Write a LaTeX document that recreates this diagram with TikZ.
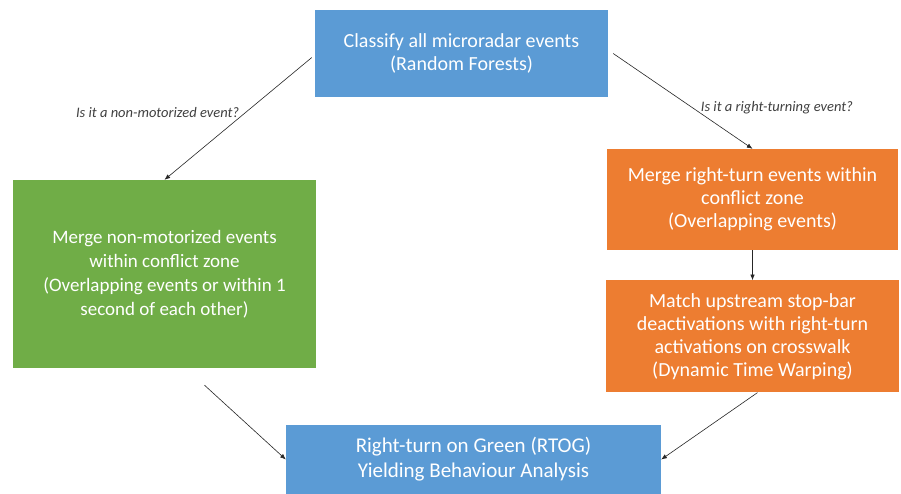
\documentclass[tikz,border=0pt]{standalone}
\usepackage{fontspec}
\setmainfont{Carlito}
\usetikzlibrary{
  arrows.meta,
  positioning
}
\definecolor{StepBlue}{RGB}{91,155,213}
\definecolor{StepGreen}{RGB}{112,173,71}
\definecolor{StepOrange}{RGB}{237,125,49}
\definecolor{QuestionGray}{RGB}{64,64,64}
\tikzset{
  bluestep/.style={fill=StepBlue,text=white,align=center,inner sep=0pt,font=\fontsize{20}{23}\selectfont},
  greenstep/.style={fill=StepGreen,text=white,align=center,inner sep=0pt,font=\fontsize{19}{24}\selectfont},
  orangestep/.style={fill=StepOrange,text=white,align=center,inner sep=0pt,font=\fontsize{20}{23}\selectfont},
  flowarrow/.style={-{Latex[length=2mm,width=1.6mm]},semithick,draw=black!85},
  question/.style={font=\fontsize{14.5}{16}\selectfont\itshape,text=QuestionGray,inner sep=0pt}
}

\begin{document}
\begin{tikzpicture}[x=1pt,y=-1pt]
\useasboundingbox[fill=white] (0,0) rectangle (901,494);
\node[bluestep, minimum width=293pt, minimum height=87pt] (classify) at (461.5,53.5) {Classify all microradar events\\(Random Forests)};
\node[greenstep, minimum width=303pt, minimum height=188pt] (nonmotor) at (164.5,274) {Merge non-motorized events\\within conflict zone\\(Overlapping events or within 1\\second of each other)};
\node[orangestep, minimum width=291pt, minimum height=101pt] (rightmerge) at (752.5,199.5) {Merge right-turn events within\\conflict zone\\(Overlapping events)};
\node[orangestep, minimum width=293pt, minimum height=112pt, below=30pt of rightmerge] (stopbar) {Match upstream stop-bar\\deactivations with right-turn\\activations on crosswalk\\(Dynamic Time Warping)};
\node[bluestep, minimum width=375pt, minimum height=69pt, font=\fontsize{21}{25}\selectfont] (rtog) at (473.5,459.5) {Right-turn on Green (RTOG)\\Yielding Behaviour Analysis};
\draw[flowarrow] ([xshift=-3pt,yshift=-4pt]classify.west) -- node[question, pos=0.45, anchor=east, xshift=-6pt] {Is it a non-motorized event?} (nonmotor.north);
\draw[flowarrow] ([xshift=5pt]classify.east) -- node[question, pos=0.57, anchor=west, xshift=8pt] {Is it a right-turning event?} (rightmerge.north);
\draw[flowarrow] (rightmerge) -- (stopbar);
\draw[flowarrow] ([xshift=40pt,yshift=-17pt]nonmotor.south) -- (rtog.west);
\draw[flowarrow] ([xshift=5pt]stopbar.south) -- (rtog.east);
\end{tikzpicture}
\end{document}
